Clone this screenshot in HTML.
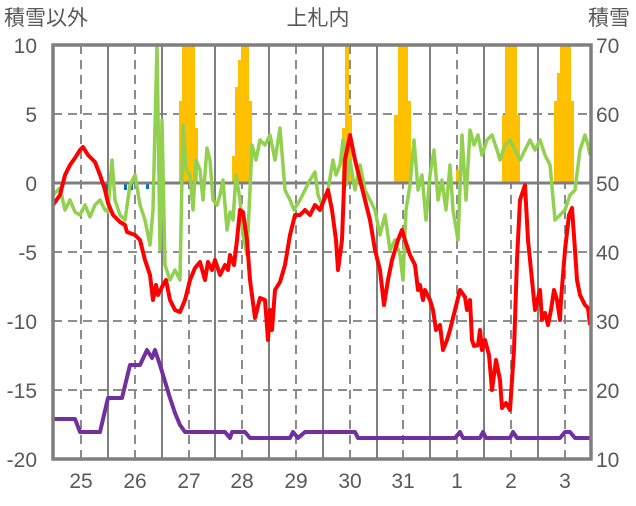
<!DOCTYPE html><html><head><meta charset="utf-8"><style>body{margin:0;background:#fff}svg text{font-family:"Liberation Sans","Noto Sans CJK JP",sans-serif;fill:#595959;font-size:21px}</style></head><body>
<svg width="636" height="501" xmlns="http://www.w3.org/2000/svg">
<rect width="636" height="501" fill="#fff"/>
<g stroke="#7f7f7f" stroke-width="1.8" stroke-dasharray="9,6" fill="none">
<line x1="53" y1="114" x2="591" y2="114"/><line x1="53" y1="252" x2="591" y2="252"/><line x1="53" y1="321" x2="591" y2="321"/><line x1="53" y1="390" x2="591" y2="390"/>
<line x1="81" y1="45" x2="81" y2="459"/><line x1="135" y1="45" x2="135" y2="459"/><line x1="189" y1="45" x2="189" y2="459"/><line x1="242" y1="45" x2="242" y2="459"/><line x1="296" y1="45" x2="296" y2="459"/><line x1="350" y1="45" x2="350" y2="459"/><line x1="403" y1="45" x2="403" y2="459"/><line x1="457" y1="45" x2="457" y2="459"/><line x1="511" y1="45" x2="511" y2="459"/><line x1="565" y1="45" x2="565" y2="459"/></g>
<g stroke="#7f7f7f" stroke-width="2">
<line x1="108" y1="45" x2="108" y2="459"/><line x1="162" y1="45" x2="162" y2="459"/><line x1="215" y1="45" x2="215" y2="459"/><line x1="269" y1="45" x2="269" y2="459"/><line x1="323" y1="45" x2="323" y2="459"/><line x1="377" y1="45" x2="377" y2="459"/><line x1="430" y1="45" x2="430" y2="459"/><line x1="484" y1="45" x2="484" y2="459"/><line x1="538" y1="45" x2="538" y2="459"/></g>
<g fill="#ffc000">
<rect x="179" y="101" width="3" height="82"/><rect x="182" y="45" width="13" height="138"/><rect x="195" y="128" width="3" height="55"/>
<rect x="232" y="156" width="3" height="27"/><rect x="235" y="87" width="3" height="96"/><rect x="238" y="60" width="3" height="123"/><rect x="241" y="45" width="8" height="138"/><rect x="249" y="101" width="3" height="82"/>
<rect x="342" y="128" width="3" height="55"/><rect x="345" y="45" width="4" height="138"/><rect x="349" y="115" width="3" height="68"/>
<rect x="394" y="115" width="4" height="68"/><rect x="398" y="45" width="10" height="138"/><rect x="408" y="101" width="3" height="82"/>
<rect x="456" y="170" width="3" height="13"/>
<rect x="502" y="115" width="3" height="68"/><rect x="505" y="45" width="12" height="138"/><rect x="517" y="115" width="3" height="68"/>
<rect x="554" y="101" width="3" height="82"/><rect x="557" y="73" width="3" height="110"/><rect x="560" y="45" width="11" height="138"/><rect x="571" y="101" width="3" height="82"/>
</g>
<g fill="#0070c0"><rect x="104" y="184" width="4" height="8"/><rect x="124" y="184" width="3" height="6"/><rect x="129" y="184" width="4" height="6"/><rect x="146" y="184" width="3" height="5"/></g>
<line x1="53" y1="183" x2="591" y2="183" stroke="#7f7f7f" stroke-width="3"/>
<g fill="none" stroke-width="4" stroke-linejoin="round">
<polyline stroke="#92d050" stroke-width="3.5" points="53,195 60,188 65,210 70,200 75,212 80,215 85,205 90,217 95,205 100,200 105,210 108,212 112,160 115,200 120,215 125,220 130,185 135,175 140,205 145,220 150,245 153,210 157,45 160,250 162,120 165,265 170,280 175,270 180,280 183,125 186,170 190,175 193,210 196,160 200,170 203,200 207,148 210,160 213,200 217,205 220,195 223,180 227,230 230,212 233,220 236,175 240,200 243,235 247,255 252,145 256,160 260,140 265,145 270,135 275,160 280,128 285,190 290,200 294,210 300,200 305,190 310,180 315,172 318,195 322,205 328,190 333,160 336,175 340,165 343,140 346,185 350,160 355,190 360,165 365,190 370,200 375,210 380,235 385,215 390,250 395,240 400,255 403,280 406,210 410,185 414,140 418,190 422,175 426,220 430,175 434,150 438,200 442,180 446,210 450,165 453,210 458,240 462,135 466,200 470,130 474,145 478,135 482,155 487,140 492,135 497,150 500,160 505,145 510,140 515,150 520,160 525,150 530,140 535,150 540,140 545,155 550,165 555,220 560,215 565,210 570,195 575,190 580,150 585,135 588,145 590,155"/>
<polyline stroke="#ff0000" points="53,205 60,195 65,175 70,165 75,158 80,150 83,147 88,155 95,162 100,175 105,190 108,203 113,215 120,222 125,225 127,232 135,235 140,240 145,260 150,275 153,300 156,285 158,295 163,285 166,280 170,300 175,310 180,312 185,300 190,280 195,268 200,262 205,280 208,262 212,270 215,260 220,275 225,265 228,270 230,255 234,265 237,240 240,210 243,212 247,240 250,280 255,318 260,298 265,300 268,340 270,310 272,330 275,290 280,282 285,265 290,235 295,215 300,215 305,210 310,215 315,205 320,210 324,200 328,190 332,210 336,240 338,270 342,240 345,160 350,135 355,160 360,180 365,200 370,220 375,250 380,270 384,305 388,280 392,260 398,240 402,230 405,240 410,255 415,265 418,290 420,285 423,300 425,290 430,300 433,310 436,330 440,325 443,350 447,340 450,330 455,310 460,290 465,297 467,310 470,300 472,340 474,346 478,345 480,330 482,350 485,340 489,355 492,390 494,375 496,360 500,380 502,408 506,403 510,410 514,350 517,260 520,200 525,185 528,240 532,280 535,310 540,290 542,320 545,313 548,325 551,310 554,290 557,300 560,320 561,300 565,250 569,215 572,208 575,250 577,280 580,295 585,305 588,308 590,325"/>
<polyline stroke="#7030a0" points="53,419 75,419 80,432 100,432 108,398 122,398 130,365 140,365 147,350 152,358 155,350 160,365 170,398 175,413 180,425 185,432 225,432 230,438 232,432 245,432 250,438 290,438 293,432 298,438 305,432 355,432 358,438 455,438 460,432 463,438 480,438 483,432 486,438 510,438 513,432 517,438 560,438 565,432 570,432 575,438 590,438"/>
</g>
<rect x="53" y="45" width="538" height="414" fill="none" stroke="#7f7f7f" stroke-width="3.5"/>
<g text-anchor="end"><text x="37" y="53">10</text><text x="37" y="122">5</text><text x="37" y="191">0</text><text x="37" y="260">-5</text><text x="37" y="329">-10</text><text x="37" y="398">-15</text><text x="37" y="467">-20</text></g>
<g><text x="596" y="53">70</text><text x="596" y="122">60</text><text x="596" y="191">50</text><text x="596" y="260">40</text><text x="596" y="329">30</text><text x="596" y="398">20</text><text x="596" y="467">10</text></g>
<g text-anchor="middle"><text x="81" y="488">25</text><text x="135" y="488">26</text><text x="189" y="488">27</text><text x="242" y="488">28</text><text x="296" y="488">29</text><text x="350" y="488">30</text><text x="403" y="488">31</text><text x="457" y="488">1</text><text x="511" y="488">2</text><text x="565" y="488">3</text>
<text x="318" y="25">上札内</text></g>
<text x="4" y="25">積雪以外</text><text x="588" y="25">積雪</text>
</svg></body></html>
